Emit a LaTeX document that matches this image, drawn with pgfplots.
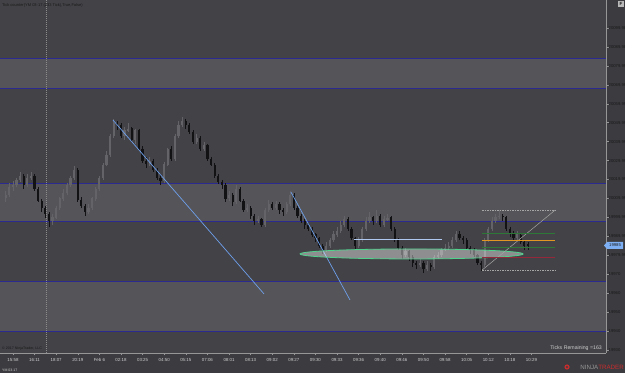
\documentclass[border=0pt]{standalone}
\usepackage{fontspec}
\setmainfont{Liberation Sans}
\usepackage{pgfplots}
\usepackage{pgfplotstable}
\pgfplotsset{compat=1.18}
\definecolor{outerbg}{RGB}{60,59,64}
\definecolor{plotbg}{RGB}{67,66,71}
\definecolor{band}{RGB}{85,84,88}
\definecolor{zoneline}{RGB}{42,42,145}
\definecolor{tline}{RGB}{110,160,235}
\definecolor{hline}{RGB}{175,200,240}
\definecolor{ellgreen}{RGB}{80,210,140}
\definecolor{fibgray}{RGB}{165,165,165}
\definecolor{fibgreen}{RGB}{45,120,55}
\definecolor{fiborange}{RGB}{225,150,35}
\definecolor{fibred}{RGB}{150,40,60}
\definecolor{upbody}{RGB}{100,100,104}
\definecolor{dnbody}{RGB}{18,18,20}
\definecolor{axisgray}{RGB}{150,150,150}
\definecolor{lbl}{RGB}{205,205,205}
\definecolor{darklbl}{RGB}{25,25,25}
\definecolor{tag}{RGB}{125,175,245}
\definecolor{ninjared}{RGB}{200,45,45}
\definecolor{ninjagray}{RGB}{150,150,150}
\definecolor{sess}{RGB}{140,140,140}

\pgfplotstableread{
b o h l c
0 20010 20014 20008 20012
1 20012 20018 20011 20016
2 20016 20019 20014 20017
3 20017 20021 20016 20020
4 20020 20024 20019 20022
5 20022 20023 20015 20017
6 20017 20023 20016 20021
7 20021 20024 20020 20022
8 20022 20023 20014 20015
9 20015 20016 20008 20009
10 20009 20010 20003 20005
11 20005 20006 20000 20002
12 20002 20003 19995 19998
13 19998 20002 19996 20000
14 20000 20006 19999 20005
15 20005 20011 20004 20010
16 20010 20015 20009 20013
17 20013 20018 20012 20017
18 20017 20022 20016 20021
19 20021 20027 20020 20025
20 20025 20026 20008 20009
21 20009 20011 20005 20006
22 20006 20007 20001 20003
23 20003 20007 20002 20005
24 20005 20011 20004 20010
25 20010 20016 20009 20015
26 20015 20022 20014 20021
27 20021 20029 20020 20028
28 20028 20035 20027 20033
29 20033 20044 20032 20043
30 20043 20052 20042 20050
31 20050 20051 20046 20049
32 20049 20050 20042 20043
33 20043 20048 20041 20046
34 20046 20050 20045 20047
35 20047 20048 20040 20041
36 20041 20047 20039 20046
37 20046 20047 20035 20036
38 20036 20038 20029 20030
39 20030 20032 20026 20028
40 20028 20032 20027 20030
41 20030 20031 20024 20025
42 20025 20026 20020 20021
43 20021 20023 20017 20019
44 20019 20029 20018 20028
45 20028 20037 20027 20036
46 20036 20038 20030 20031
47 20031 20044 20030 20043
48 20043 20051 20042 20049
49 20049 20053 20048 20051
50 20051 20052 20047 20049
51 20049 20050 20044 20045
52 20045 20046 20039 20040
53 20040 20044 20039 20042
54 20042 20043 20035 20036
55 20036 20040 20035 20038
56 20038 20039 20030 20031
57 20031 20032 20027 20028
58 20028 20029 20021 20022
59 20022 20023 20018 20019
60 20019 20020 20015 20017
61 20017 20018 20008 20010
62 20010 20014 20009 20012
63 20012 20013 20006 20008
64 20008 20017 20007 20015
65 20015 20016 20008 20009
66 20009 20010 20003 20004
67 20004 20007 20003 20005
68 20005 20006 19999 20001
69 20001 20002 19996 19998
70 19998 20001 19997 19999
71 19999 20000 19995 19996
72 19996 20005 19995 20004
73 20004 20009 20003 20007
74 20007 20008 20004 20005
75 20005 20009 20004 20007
76 20007 20008 20002 20004
77 20004 20005 20001 20003
78 20003 20008 20002 20007
79 20007 20014 20006 20012
80 20012 20013 20004 20005
81 20005 20006 20000 20001
82 20001 20002 19997 19998
83 19998 19999 19994 19996
84 19996 19997 19993 19994
85 19994 19995 19990 19991
86 19991 19992 19987 19989
87 19989 19990 19984 19985
88 19985 19986 19981 19983
89 19983 19987 19982 19985
90 19985 19989 19984 19988
91 19988 19993 19987 19991
92 19991 19995 19990 19993
93 19993 19998 19992 19996
94 19996 20001 19995 19999
95 19999 20000 19993 19994
96 19994 19995 19988 19989
97 19989 19990 19983 19985
98 19985 19990 19984 19988
99 19988 19995 19987 19994
100 19994 20000 19993 19998
101 19998 20003 19997 20000
102 20000 20001 19996 19998
103 19998 20004 19997 20001
104 20001 20002 19995 19996
105 19996 20001 19995 19999
106 19999 20002 19998 20000
107 20000 20001 19993 19994
108 19994 19995 19987 19988
109 19988 19989 19983 19984
110 19984 19985 19978 19980
111 19980 19984 19979 19982
112 19982 19983 19977 19979
113 19979 19980 19974 19976
114 19976 19977 19973 19975
115 19975 19978 19974 19976
116 19976 19977 19971 19973
117 19973 19977 19972 19975
118 19975 19976 19972 19974
119 19974 19980 19973 19979
120 19979 19982 19978 19980
121 19980 19984 19979 19983
122 19983 19986 19982 19984
123 19984 19987 19983 19985
124 19985 19990 19984 19988
125 19988 19993 19987 19991
126 19991 19993 19988 19989
127 19989 19990 19986 19988
128 19988 19989 19983 19984
129 19984 19985 19981 19983
130 19983 19984 19979 19980
131 19980 19981 19975 19976
132 19976 19977 19972 19975
133 19975 19989 19974 19988
134 19988 19995 19987 19994
135 19994 20000 19993 19998
136 19998 20002 19997 20000
137 20000 20004 19999 20001
138 20001 20002 19998 20000
139 20000 20001 19993 19994
140 19994 19995 19990 19992
141 19992 19993 19988 19989
142 19989 19993 19988 19991
143 19991 19992 19986 19987
144 19987 19988 19983 19985
145 19986 19987 19983 19985
}\candles

\begin{document}
\begin{tikzpicture}
\useasboundingbox (0,0) rectangle (625bp,373bp);
\fill[outerbg] (0,0) rectangle (625bp,373bp);
\begin{axis}[
  at={(0,20bp)}, anchor=south west,
  scale only axis, width=606bp, height=353bp,
  xmin=-1.6, xmax=166.7, ymin=19928.4, ymax=20114.8,
  axis background/.style={fill=plotbg},
  axis x line*=bottom, axis y line*=right,
  axis line style={draw=axisgray, line width=0.6bp},
  xtick={2,8,...,146},
  xticklabels={15:58,16:11,18:07,20:19,Feb 6,02:18,03:25,04:50,05:15,07:06,08:01,08:13,09:02,09:27,09:30,09:33,09:36,09:40,09:46,09:50,09:58,10:05,10:12,10:18,10:29},
  ytick={19930,19940,...,20100},
  scaled y ticks=false,
  tick align=outside, major tick length=2.5bp,
  tick style={draw=axisgray, line width=0.5bp},
  xticklabel style={font=\fontsize{4.4bp}{5bp}\selectfont, text=lbl, inner sep=0pt, yshift=-2.5bp},
  yticklabel style={font=\fontsize{4.2bp}{5bp}\selectfont, text=darklbl, inner sep=0pt, anchor=west, xshift=0pt, /pgf/number format/1000 sep={}, /pgf/number format/assume math mode=true},
]
% zones
\addplot[draw=none, fill=band] coordinates {(-1.6,20068) (166.7,20068) (166.7,20084) (-1.6,20084)} -- cycle;
\addplot[draw=none, fill=band] coordinates {(-1.6,19998) (166.7,19998) (166.7,20018) (-1.6,20018)} -- cycle;
\addplot[draw=none, fill=band] coordinates {(-1.6,19940) (166.7,19940) (166.7,19966) (-1.6,19966)} -- cycle;
\addplot[zoneline, line width=0.8bp] coordinates {(-1.6,20084) (166.7,20084)};
\addplot[zoneline, line width=0.8bp] coordinates {(-1.6,20068) (166.7,20068)};
\addplot[zoneline, line width=0.8bp] coordinates {(-1.6,20018) (166.7,20018)};
\addplot[zoneline, line width=0.8bp] coordinates {(-1.6,19998) (166.7,19998)};
\addplot[zoneline, line width=0.8bp] coordinates {(-1.6,19966) (166.7,19966)};
\addplot[zoneline, line width=0.8bp] coordinates {(-1.6,19940) (166.7,19940)};
% session break
\addplot[sess, dash pattern=on 1bp off 1bp, line width=0.5bp] coordinates {(11.2,19928.4) (11.2,20114.8)};
% wicks
\addplot[draw=none, mark=none, error bars/.cd, y dir=both, y explicit, error mark=none,
  error bar style={draw=upbody, line width=0.6bp}]
  table[x=b, y expr={\thisrow{c}>=\thisrow{o} ? (\thisrow{h}+\thisrow{l})/2 : nan}, y error expr={(\thisrow{h}-\thisrow{l})/2}] {\candles};
\addplot[draw=none, mark=none, error bars/.cd, y dir=both, y explicit, error mark=none,
  error bar style={draw=dnbody, line width=0.6bp}]
  table[x=b, y expr={\thisrow{c}<\thisrow{o} ? (\thisrow{h}+\thisrow{l})/2 : nan}, y error expr={(\thisrow{h}-\thisrow{l})/2}] {\candles};
% bodies
\addplot[draw=none, mark=none, error bars/.cd, y dir=both, y explicit, error mark=none,
  error bar style={draw=upbody, line width=2.2bp}]
  table[x=b, y expr={\thisrow{c}>=\thisrow{o} ? (\thisrow{o}+\thisrow{c})/2 : nan}, y error expr={max(abs(\thisrow{c}-\thisrow{o})/2,0.3)}] {\candles};
\addplot[draw=none, mark=none, error bars/.cd, y dir=both, y explicit, error mark=none,
  error bar style={draw=dnbody, line width=2.2bp}]
  table[x=b, y expr={\thisrow{c}<\thisrow{o} ? (\thisrow{o}+\thisrow{c})/2 : nan}, y error expr={max(abs(\thisrow{c}-\thisrow{o})/2,0.3)}] {\candles};
% drawings
\addplot[tline, line width=0.7bp] coordinates {(29.78,20051.4) (71.72,19959.6)};
\addplot[tline, line width=0.7bp] coordinates {(79.2,20013.4) (95.6,19956.4)};
\addplot[hline, line width=0.8bp] coordinates {(96.7,19988.6) (121.2,19988.6)};
\draw[draw=ellgreen, line width=0.8bp, fill=white, fill opacity=0.4] (axis cs:112.7,19980.7) ellipse [x radius=111.5bp, y radius=5bp];
\addplot[fibgray, dash pattern=on 1.5bp off 1bp, line width=0.5bp] coordinates {(132.3,20003.9) (152.6,20003.9)};
\addplot[fibgray, dash pattern=on 1.5bp off 1bp, line width=0.5bp] coordinates {(132.3,19972.2) (152.6,19972.2)};
\addplot[fibgray, line width=0.5bp] coordinates {(132.3,19972.2) (152.6,20003.9)};
\addplot[fibgreen, line width=0.6bp] coordinates {(132.3,19991.8) (152.6,19991.8)};
\addplot[fiborange, line width=0.7bp] coordinates {(132.3,19988.1) (152.6,19988.1)};
\addplot[fibgreen, line width=0.6bp] coordinates {(132.3,19984.4) (152.6,19984.4)};
\addplot[fibred, line width=0.6bp] coordinates {(132.3,19979.1) (152.6,19979.1)};
\end{axis}
% texts
\node[anchor=west, inner sep=0pt, text=darklbl, font=\fontsize{4bp}{5bp}\selectfont] at (2bp,368bp) {Tick counter(YM 03-17 (233 Tick),True,False)};
\node[anchor=west, inner sep=0pt, text=darklbl, font=\fontsize{3.6bp}{4bp}\selectfont] at (2bp,24bp) {\textcopyright{} 2017 NinjaTrader, LLC};
\node[anchor=east, inner sep=0pt, text=lbl, font=\fontsize{5.2bp}{6bp}\selectfont] at (602bp,25bp) {Ticks Remaining =163};
\node[anchor=west, inner sep=0pt, text=lbl, font=\fontsize{3.5bp}{4bp}\selectfont] at (2bp,3bp) {YM 03-17};
% price tag
\fill[tag] (604bp,127.5bp) -- (607bp,131bp) -- (623bp,131bp) -- (623bp,124bp) -- (607bp,124bp) -- cycle;
\node[inner sep=0pt, text=darklbl, font=\fontsize{4.2bp}{5bp}\selectfont] at (615bp,127.5bp) {19985};
% F box
\fill[fill={rgb,255:red,185;green,185;blue,185}] (618bp,366bp) rectangle (624bp,372bp);
\node[inner sep=0pt, text=darklbl, font=\fontsize{4.5bp}{5bp}\selectfont\bfseries] at (621bp,369bp) {F};
% logo
\fill[ninjared] (567bp,6bp) circle (2.6bp);
\fill[outerbg] (567bp,6bp) circle (1.1bp);
\node[anchor=east, inner sep=0pt, font=\fontsize{6.2bp}{7bp}\selectfont] at (624bp,6bp) {\textcolor{ninjagray}{NINJA}\textcolor{ninjared}{TRADER}};
\end{tikzpicture}
\end{document}
